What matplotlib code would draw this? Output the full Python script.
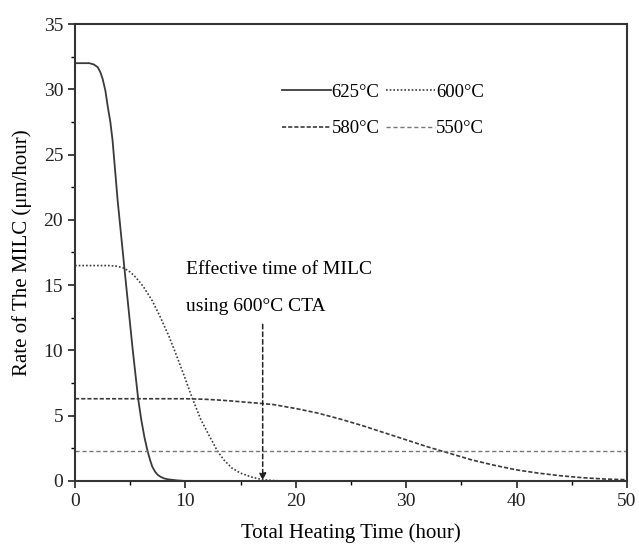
import matplotlib
matplotlib.use("Agg")
import matplotlib.pyplot as plt
from matplotlib.ticker import MultipleLocator

plt.rcParams['font.family'] = ['Liberation Serif', 'DejaVu Serif']

# 625 C
x625 = [0, 1.3, 1.7, 2.05, 2.3, 2.5, 2.75, 2.96, 3.2, 3.4, 3.86, 4.45, 5.22, 5.72, 6.0, 6.3, 6.57,
        6.8, 7.0, 7.25, 7.48, 7.75, 8.07, 8.4, 8.7, 9.2, 10, 50]
y625 = [32, 32, 31.9, 31.7, 31.3, 30.8, 29.9, 28.7, 27.5, 26.1, 21.5, 16.5, 10.1, 6.3, 4.7, 3.3, 2.3,
        1.6, 1.1, 0.72, 0.48, 0.32, 0.2, 0.13, 0.1, 0.05, 0, 0]
# 600 C
x600 = [0, 3, 3.8, 4.45, 5.0, 5.5, 6.18, 7.0, 7.7, 8.5, 9.2, 10.0, 10.64, 11.4, 12.2, 12.9, 13.5,
        14.2, 15.0, 16.0, 17, 18, 19, 50]
y600 = [16.5, 16.5, 16.45, 16.3, 16.0, 15.6, 14.9, 13.8, 12.6, 11.1, 9.6, 7.8, 6.3, 4.7, 3.4, 2.3, 1.6,
        1.0, 0.6, 0.3, 0.1, 0.03, 0, 0]
# 580 C
x580 = [0, 5, 10, 11, 12, 13, 14, 15, 16, 17, 18, 20, 22, 24, 26, 28, 30, 32, 34, 36, 38, 40, 42,
        44, 46, 48, 50]
y580 = [6.3, 6.3, 6.3, 6.28, 6.25, 6.2, 6.14, 6.07, 6.0, 5.93, 5.85, 5.55, 5.2, 4.75, 4.25, 3.7, 3.15,
        2.6, 2.1, 1.6, 1.2, 0.85, 0.6, 0.4, 0.25, 0.15, 0.1]
# 550 C
x550 = [0, 50]
y550 = [2.3, 2.3]

arrow_x = 17
arrow_top = 12

fig = plt.figure(figsize=(6.39, 5.53), dpi=100)
ax = fig.add_axes([0.1174, 0.1302, 0.8638, 0.8264])

l625, = ax.plot(x625, y625, color='#3a3a3a', lw=1.3, ls='-', label='625°C')
l600, = ax.plot(x600, y600, color='#3a3a3a', lw=1.2, ls=(0, (1, 1.2)), label='600°C')
l580, = ax.plot(x580, y580, color='#3a3a3a', lw=1.2, ls=(0, (2.5, 1.2)), label='580°C')
l550, = ax.plot(x550, y550, color='#777777', lw=1.0, ls=(0, (3, 2)), label='550°C')

ax.annotate('', xy=(arrow_x, 0.05), xytext=(arrow_x, arrow_top),
            arrowprops=dict(arrowstyle='-|>', color='#222222', lw=1.1, ls=(0, (3, 2)),
                            mutation_scale=10, shrinkA=0, shrinkB=0))
ax.text(10.05, 16.2, 'Effective time of MILC', fontsize=14, va='center', ha='left')
ax.text(10.05, 13.4, 'using 600°C CTA', fontsize=14, va='center', ha='left')

ax.set_xlim(0, 50)
ax.set_ylim(0, 35)
ax.xaxis.set_major_locator(MultipleLocator(10))
ax.xaxis.set_minor_locator(MultipleLocator(5))
ax.yaxis.set_major_locator(MultipleLocator(5))
ax.yaxis.set_minor_locator(MultipleLocator(2.5))
ax.tick_params(which='major', direction='out', length=5, width=1.2, labelsize=14, colors='#222222')
ax.tick_params(which='minor', direction='out', length=3, width=1.0)
for s in ax.spines.values():
    s.set_linewidth(1.5)
    s.set_color('#333333')

ax.set_xlabel('Total Heating Time (hour)', fontsize=15, labelpad=10)
ax.set_ylabel('Rate of The MILC (μm/hour)', fontsize=15, labelpad=8)

leg = ax.legend(handles=[l625, l580, l600, l550], ncol=2, loc='upper left',
                bbox_to_anchor=(0.375, 0.870), frameon=False, fontsize=13.5,
                handlelength=2.6, handletextpad=0.05, columnspacing=0.35,
                labelspacing=1.05, borderaxespad=0, borderpad=0)

fig.savefig('out.png', dpi=100)
